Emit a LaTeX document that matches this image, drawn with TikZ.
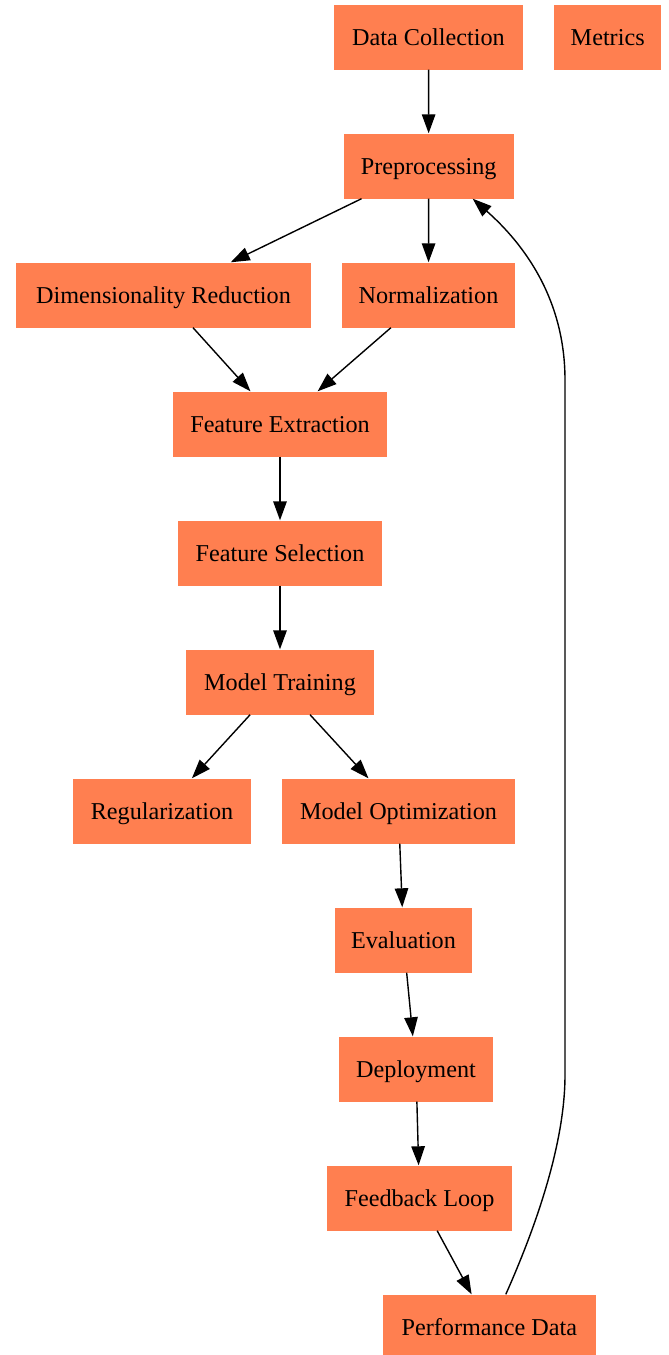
\documentclass[tikz,border=0pt]{standalone}
\usepackage{fontspec}
\setmainfont{Liberation Serif}
\usetikzlibrary{arrows.meta}
\definecolor{coral}{RGB}{255,127,80}
\begin{document}
\begin{tikzpicture}[x=1pt,y=-1pt,
  box/.style={rectangle,fill=coral,inner sep=0pt,minimum height=65pt,text height=20pt,text depth=4pt,font=\fontsize{24.2pt}{28pt}\selectfont},
  edge/.style={line width=1.4pt,-{Triangle[length=19pt,width=13.5pt]}}]
\useasboundingbox (0,0) rectangle (669,1355);
\node[box,minimum width=189pt] (dc) at (428.5,37) {Data Collection};
\node[box,minimum width=107pt] (me) at (607.7,37) {Metrics};
\node[box,minimum width=170pt] (pre) at (428.7,166) {Preprocessing};
\node[box,minimum width=295pt] (dr) at (163.5,295) {Dimensionality Reduction};
\node[box,minimum width=173pt] (no) at (428.5,295) {Normalization};
\node[box,minimum width=214pt] (fe) at (280,424) {Feature Extraction};
\node[box,minimum width=204pt] (fs) at (280,553) {Feature Selection};
\node[box,minimum width=188pt] (mt) at (280,682) {Model Training};
\node[box,minimum width=178pt] (re) at (162,811) {Regularization};
\node[box,minimum width=233pt] (mo) at (398.5,811) {Model Optimization};
\node[box,minimum width=137pt] (ev) at (403.5,940) {Evaluation};
\node[box,minimum width=154pt] (de) at (416,1069) {Deployment};
\node[box,minimum width=185pt] (fl) at (419.5,1198) {Feedback Loop};
\node[box,minimum width=213pt] (pd) at (489.3,1327) {Performance Data};
\draw[edge] (dc) -- (pre);
\draw[edge] (pre) -- (dr);
\draw[edge] (pre) -- (no);
\draw[edge] (dr) -- (fe);
\draw[edge] (no) -- (fe);
\draw[edge] (fe) -- (fs);
\draw[edge] (fs) -- (mt);
\draw[edge] (mt) -- (re);
\draw[edge] (mt) -- (mo);
\draw[edge] (mo) -- (ev);
\draw[edge] (ev) -- (de);
\draw[edge] (de) -- (fl);
\draw[edge] (fl) -- (pd);
\draw[edge] ([xshift=16.5pt]pd.north) .. controls (530,1240) and (565,1150) .. (565,1075)
  -- (565,380) .. controls (565,300) and (525,245) .. ([xshift=44pt]pre.south);
\end{tikzpicture}
\end{document}
